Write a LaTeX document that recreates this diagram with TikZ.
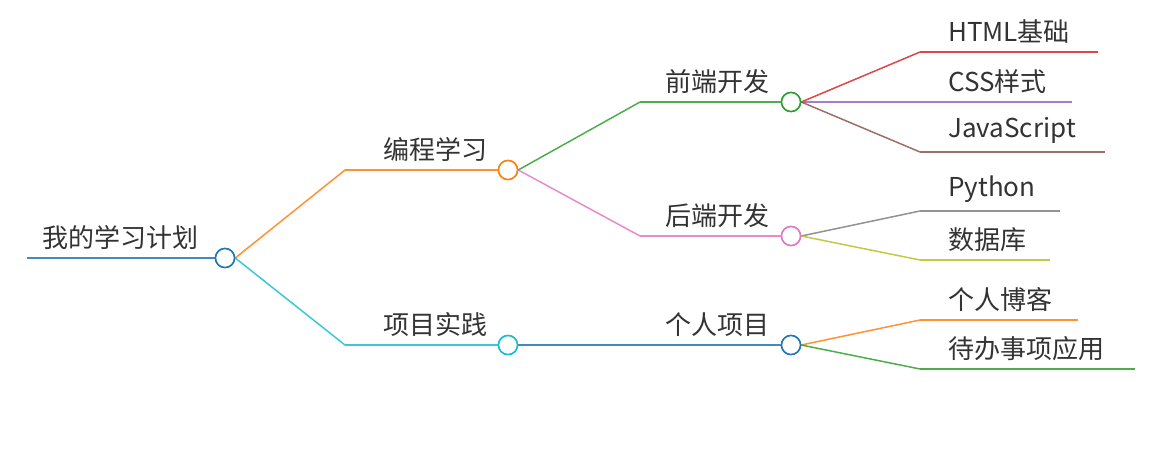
\documentclass[tikz,border=0pt]{standalone}
\usepackage{fontspec}
\setmainfont{Noto Sans CJK SC}
\definecolor{cblue}{HTML}{1F77B4}
\definecolor{corange}{HTML}{FF7F0E}
\definecolor{cgreen}{HTML}{2CA02C}
\definecolor{cred}{HTML}{D62728}
\definecolor{cpurple}{HTML}{9467BD}
\definecolor{cbrown}{HTML}{8C564B}
\definecolor{cpink}{HTML}{E377C2}
\definecolor{cgray}{HTML}{7F7F7F}
\definecolor{colive}{HTML}{BCBD22}
\definecolor{ccyan}{HTML}{17BECF}
\definecolor{txt}{HTML}{333333}
\tikzset{
  knob/.style={circle,draw=#1,fill=white,line width=1.5pt,minimum size=19pt,inner sep=0pt},
  lbl/.style={anchor=south west,inner sep=0pt,text=txt,font=\fontsize{26}{30}\selectfont},
  edge/.style={draw=#1,line width=1.5pt,opacity=0.85},
}
% horizontal-tangent curve between two points
\newcommand{\curv}[3]{\draw[edge=#1] (#2) .. controls ($(#2)!0.5!(#3)$ |- #2) and ($(#2)!0.5!(#3)$ |- #3) .. (#3);}
\usetikzlibrary{calc}
\begin{document}
\begin{tikzpicture}[x=1pt,y=-1pt]
\useasboundingbox (0,0) rectangle (1159,450);
% root
\coordinate (s0) at (27,258);
\node[knob=cblue] (root) at (225,258) {};
\node[lbl] at (42,250) {我的学习计划};
\draw[edge=cblue] (s0) -- (root);
% level 1
\coordinate (s1a) at (345,170); \node[knob=corange] (prog) at (508,170) {};
\node[lbl] at (383,162) {编程学习};
\coordinate (s1b) at (345,345); \node[knob=ccyan] (proj) at (508,345) {};
\node[lbl] at (383,337) {项目实践};
% level 2
\coordinate (s2a) at (640,102); \node[knob=cgreen] (front) at (791,102) {};
\node[lbl] at (665,94) {前端开发};
\coordinate (s2b) at (640,236); \node[knob=cpink] (back) at (791,236) {};
\node[lbl] at (665,228) {后端开发};
\coordinate (s2c) at (640,345); \node[knob=cblue] (pers) at (791,345) {};
\node[lbl] at (665,337) {个人项目};
% level 3
\coordinate (s3a) at (920,52);  \coordinate (e3a) at (1098,52);
\node[lbl] at (948,44) {HTML基础};
\coordinate (s3b) at (920,102); \coordinate (e3b) at (1072,102);
\node[lbl] at (948,94) {CSS样式};
\coordinate (s3c) at (920,152); \coordinate (e3c) at (1105,152);
\node[lbl] at (948,144) {JavaScript};
\coordinate (s3d) at (920,211); \coordinate (e3d) at (1060,211);
\node[lbl] at (948,203) {Python};
\coordinate (s3e) at (920,260); \coordinate (e3e) at (1050,260);
\node[lbl] at (948,252) {数据库};
\coordinate (s3f) at (920,320); \coordinate (e3f) at (1078,320);
\node[lbl] at (948,312) {个人博客};
\coordinate (s3g) at (920,369); \coordinate (e3g) at (1135,369);
\node[lbl] at (948,361) {待办事项应用};
% links
\curv{corange}{root.east}{s1a} \draw[edge=corange] (s1a) -- (prog);
\curv{ccyan}{root.east}{s1b} \draw[edge=ccyan] (s1b) -- (proj);
\curv{cgreen}{prog.east}{s2a} \draw[edge=cgreen] (s2a) -- (front);
\curv{cpink}{prog.east}{s2b} \draw[edge=cpink] (s2b) -- (back);
\draw[edge=cblue] (proj) -- (pers);
\curv{cred}{front.east}{s3a} \draw[edge=cred] (s3a) -- (e3a);
\curv{cpurple}{front.east}{s3b} \draw[edge=cpurple] (s3b) -- (e3b);
\curv{cbrown}{front.east}{s3c} \draw[edge=cbrown] (s3c) -- (e3c);
\curv{cgray}{back.east}{s3d} \draw[edge=cgray] (s3d) -- (e3d);
\curv{colive}{back.east}{s3e} \draw[edge=colive] (s3e) -- (e3e);
\curv{corange}{pers.east}{s3f} \draw[edge=corange] (s3f) -- (e3f);
\curv{cgreen}{pers.east}{s3g} \draw[edge=cgreen] (s3g) -- (e3g);
% redraw knobs on top
\foreach \n/\c in {root/cblue,prog/corange,proj/ccyan,front/cgreen,back/cpink,pers/cblue}
  \node[knob=\c] at (\n) {};
\end{tikzpicture}
\end{document}
